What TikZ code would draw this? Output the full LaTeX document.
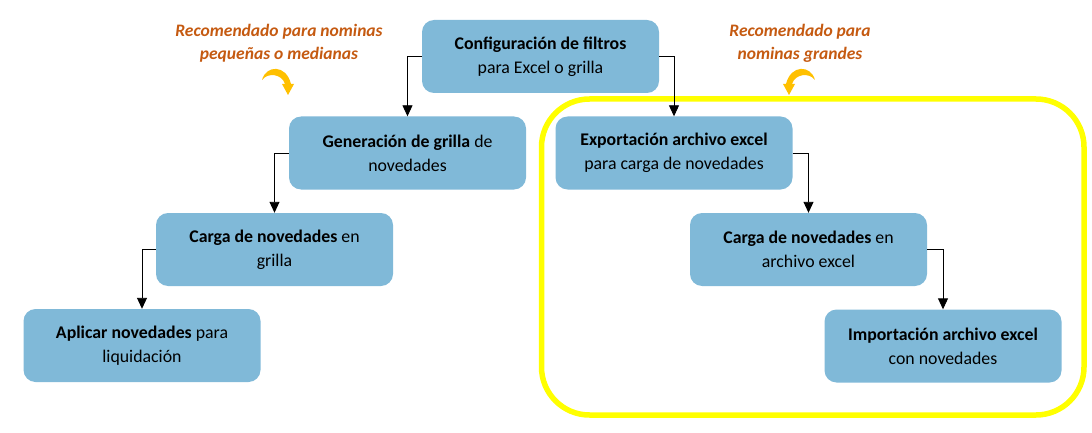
\documentclass[tikz,border=0pt]{standalone}
\usepackage{fontspec}
\setmainfont{Carlito}
\usetikzlibrary{arrows.meta}
\definecolor{boxblue}{RGB}{128,185,216}
\definecolor{noteorange}{RGB}{197,90,17}
\definecolor{curvegold}{RGB}{255,192,0}
\definecolor{frameyellow}{RGB}{255,255,0}
\tikzset{
  stepbox/.style={fill=boxblue, rounded corners=12pt, minimum width=237pt, minimum height=73pt,
    inner sep=0pt, align=center, font=\fontsize{17.8}{24}\selectfont, text=black},
  link/.style={draw=black, line width=0.9pt, -{Triangle[width=10pt,length=11pt]}},
  note/.style={align=center, text=noteorange, font=\fontsize{17.5}{23}\selectfont\bfseries\itshape},
}
\begin{document}
\begin{tikzpicture}[x=1pt,y=-1pt]
\useasboundingbox (0,0) rectangle (1092,433);
% yellow frame
\draw[frameyellow, line width=5.5pt, rounded corners=48pt] (541.5,99) rectangle (1084,415);
% boxes
\node[stepbox] (config) at (540.5,56.5) {\textbf{Configuración de filtros}\\para Excel o grilla};
\node[stepbox] (gen) at (407.5,153) {\textbf{Generación de grilla} de\\novedades};
\node[stepbox] (carga) at (274.5,249.5) {\textbf{Carga de novedades} en\\grilla};
\node[stepbox] (aplicar) at (142,345.5) {\textbf{Aplicar novedades} para\\liquidación};
\node[stepbox] (export) at (674,153) {\textbf{Exportación archivo excel}\\para carga de novedades};
\node[stepbox] (cexcel) at (808.5,249.5) {\textbf{Carga de novedades} en\\archivo excel};
\node[stepbox] (import) at (943,346) {\textbf{Importación archivo excel}\\con novedades};
% connectors
\draw[link] (config.west) -| (gen.north);
\draw[link] (config.east) -| (export.north);
\draw[link] (gen.west) -| (carga.north);
\draw[link] (carga.west) -| (aplicar.north);
\draw[link] (export.east) -| (cexcel.north);
\draw[link] (cexcel.east) -| (import.north);
% notes
\node[note] (noteL) at (279,43) {Recomendado para nominas\\pequeñas o medianas};
\node[note] (noteR) at (800,43) {Recomendado para\\nominas grandes};
% curved arrows
\fill[curvegold] (262,80) .. controls (266,65) and (286,64) .. (291,84)
  -- (294,84) -- (288,95) -- (282,84) -- (285,84)
  .. controls (282,74) and (268,72) .. (262,80) -- cycle;
\fill[curvegold] (815,80) .. controls (811,65) and (791,64) .. (786,84)
  -- (783,84) -- (789,95) -- (795,84) -- (792,84)
  .. controls (795,74) and (809,72) .. (815,80) -- cycle;
\end{tikzpicture}
\end{document}
